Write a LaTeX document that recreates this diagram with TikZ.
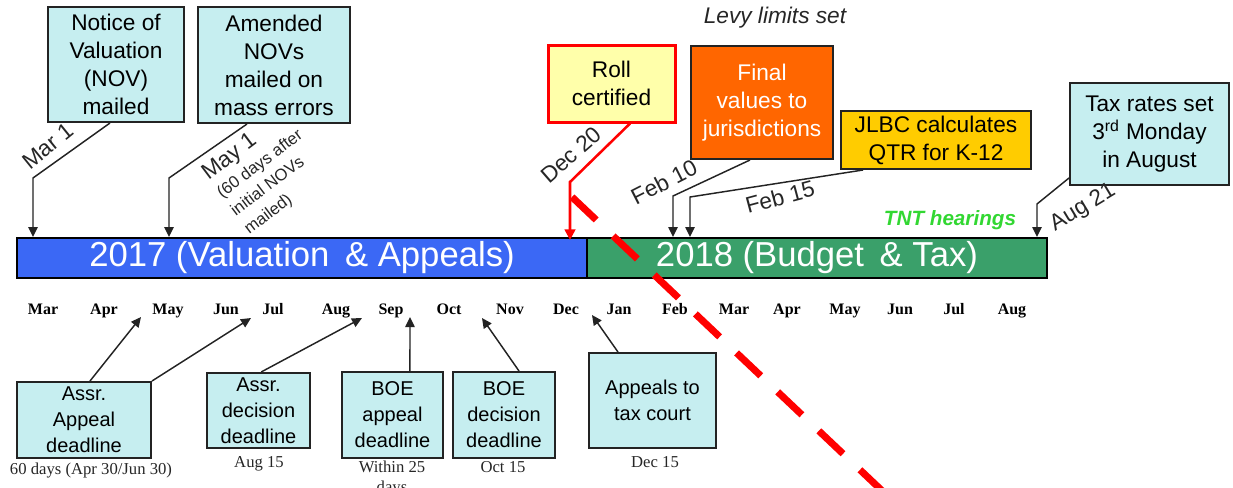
\documentclass[tikz,border=0pt]{standalone}
\usepackage{fontspec}
\setmainfont{Liberation Sans}
\newfontfamily\monthfont{Liberation Serif}
\usetikzlibrary{arrows.meta}

\definecolor{boxcyan}{RGB}{198,238,240}
\definecolor{rollyellow}{RGB}{255,255,170}
\definecolor{finalorange}{RGB}{255,102,0}
\definecolor{jlbcgold}{RGB}{255,204,0}
\definecolor{bluebar}{RGB}{59,104,245}
\definecolor{greenbar}{RGB}{58,160,106}
\definecolor{tntgreen}{RGB}{50,215,50}
\definecolor{edge}{RGB}{35,35,35}

\begin{document}
\begin{tikzpicture}[x=0.75pt,y=-0.75pt,
  box/.style={draw=edge, line width=1.5pt, fill=boxcyan, align=center,
    inner sep=0pt, font=\fontsize{17}{21}\selectfont},
  lowbox/.style={box, font=\fontsize{15}{19.5}\selectfont},
  bar/.style={draw=black, line width=1.5pt, inner sep=0pt, text=white,
    font=\fontsize{26}{30}\selectfont},
  conn/.style={draw=edge, line width=1.1pt, -{Triangle[length=7.5pt,width=7pt]}},
  datelbl/.style={font=\fontsize{17}{20}\selectfont, text=black!85, inner sep=0pt},
  month/.style={font=\monthfont\bfseries\fontsize{12}{14}\selectfont,
    inner sep=0pt, anchor=base},
  caption/.style={font=\monthfont\fontsize{12.5}{15}\selectfont, align=center,
    inner sep=0pt, text=black!85, anchor=base},
]
\useasboundingbox (0,0) rectangle (1233,487);

% ---------- timeline bars ----------
\node[bar, fill=bluebar, minimum width=427.5pt, minimum height=30pt]
  (bar2017) at (302,258) {2017 (Valuation\hspace{0.45em}\& Appeals)};
\node[bar, fill=greenbar, minimum width=345pt, minimum height=30pt]
  (bar2018) at (817,258) {2018 (Budget\hspace{0.45em}\& Tax)};

% ---------- events above the timeline ----------
\node[box, minimum width=102pt, minimum height=86.25pt] (nov) at (116,64.5)
  {Notice of\\Valuation\\(NOV)\\mailed};
\node[box, minimum width=114pt, minimum height=87pt] (amend) at (274,65)
  {Amended\\NOVs\\mailed on\\mass errors};
\node[box, fill=rollyellow, draw=red, line width=2.25pt,
  minimum width=95.25pt, minimum height=57.75pt] (roll) at (611.5,83.5)
  {Roll\\certified};
\node[box, fill=finalorange, text=white, minimum width=106.5pt,
  minimum height=84.75pt] (final) at (762,102.5)
  {Final\\values to\\jurisdictions};
\node[box, fill=jlbcgold, minimum width=142.5pt, minimum height=43.5pt]
  (jlbc) at (936,140) {JLBC calculates\\QTR for K-12};
\node[box, minimum width=119.25pt, minimum height=76.5pt] (taxr) at (1149.5,134)
  {Tax rates set\\3\textsuperscript{rd} Monday\\in August};

\node[font=\itshape\fontsize{17}{20}\selectfont, text=black!85] (levy)
  at (775,18) {Levy limits set};
\node[font=\bfseries\itshape\fontsize{15.5}{18}\selectfont, text=tntgreen] (tnt)
  at (950,220) {TNT hearings};

% bend points and arrow targets on the bar
\coordinate (bMar1) at (33,178);   \coordinate (aMar1) at (33,237);
\coordinate (bMay1) at (169,178);  \coordinate (aMay1) at (169,237);
\coordinate (bDec20) at (570,182); \coordinate (aDec20) at (570,240);
\coordinate (bFeb10) at (673,196); \coordinate (aFeb10) at (673,237);
\coordinate (bFeb15) at (690,197); \coordinate (aFeb15) at (690,237);
\coordinate (bAug21) at (1037,204);\coordinate (aAug21) at (1037,237);

\draw[conn] ([xshift=-4.5pt]nov.south) -- (bMar1) -- (aMar1);
\draw[conn] ([xshift=-20.25pt]amend.south) -- (bMay1) -- (aMay1);
\draw[draw=red, line width=1.9pt, -{Triangle[length=8pt,width=8pt]}]
  ([xshift=13.9pt]roll.south) -- (bDec20) -- (aDec20);
\draw[conn] ([xshift=-9pt]final.south) -- (bFeb10) -- (aFeb10);
\draw[conn] ([xshift=-54.75pt]jlbc.south) -- (bFeb15) -- (aFeb15);
\draw[conn] ([yshift=6pt]taxr.south west) -- (bAug21) -- (aAug21);

% date labels along the connectors
\node[datelbl, rotate=39] (lMar1) at (48,146) {Mar 1};
\node[datelbl, rotate=37, align=left, font=\fontsize{12.5}{15}\selectfont]
  (lMay1) at (266,172)
  {{\fontsize{17}{20}\selectfont May 1}\\[2pt]
   (60 days after\\[2pt]initial NOVs\\[2pt]mailed)};
\node[datelbl, rotate=41] (lDec20) at (571,155) {Dec 20};
\node[datelbl, rotate=27] (lFeb10) at (664,182) {Feb 10};
\node[datelbl, rotate=15] (lFeb15) at (780,197) {Feb 15};
\node[datelbl, rotate=31] (lAug21) at (1083,208) {Aug 21};

% ---------- month scale ----------
\foreach \mx/\mn [count=\i] in {43/Mar,104/Apr,168/May,226/Jun,273/Jul,336/Aug,
    391/Sep,449/Oct,510/Nov,566/Dec,619/Jan,675/Feb,734/Mar,787/Apr,845/May,
    900/Jun,954/Jul,1012/Aug}
  \node[month] (m\i) at (\mx,314) {\mn};

% ---------- appeal events below the timeline ----------
\node[lowbox, minimum width=100.5pt, minimum height=57pt] (assr) at (84,420)
  {Assr.\\Appeal\\deadline};
\node[lowbox, minimum width=77.25pt, minimum height=56.25pt] (assrdec)
  at (258.5,410.5) {Assr.\\decision\\deadline};
\node[lowbox, minimum width=75.75pt, minimum height=64.5pt] (boeapp)
  at (392.5,415) {BOE\\appeal\\deadline};
\node[lowbox, minimum width=76.5pt, minimum height=64.5pt] (boedec)
  at (504,415) {BOE\\decision\\deadline};
\node[lowbox, minimum width=95.25pt, minimum height=71.25pt] (appeals)
  at (652.5,400.5) {Appeals to\\tax court};

\node[caption] (cAssr) at (91,474) {60 days (Apr 30/Jun 30)};
\node[caption] (cAssrdec) at (259,467) {Aug 15};
\node[caption, anchor=north] (cBoeapp) at (392,461) {Within 25\\days};
\node[caption] (cBoedec) at (503,472) {Oct 15};
\node[caption] (cAppeals) at (655,467) {Dec 15};

\coordinate (tApr) at (141,317);
\coordinate (tJun) at (251,318);
\coordinate (tAug) at (362,318);
\coordinate (tSep) at (410,317);
\coordinate (tNov) at (482,318);
\coordinate (tDec) at (592,315);

\draw[conn] ([xshift=4.5pt]assr.north) -- (tApr);
\draw[conn] (assr.north east) -- (tJun);
\draw[conn] ([xshift=2pt]assrdec.north) -- (tAug);
\draw[conn] ([xshift=13.1pt]boeapp.north) -- (tSep);
\draw[conn] ([xshift=11.25pt]boedec.north) -- (tNov);
\draw[conn] ([xshift=-25.9pt]appeals.north) -- (tDec);

% ---------- dashed red diagonal ----------
\draw[red, line width=5.25pt, dash pattern=on 25pt off 17.5pt]
  (572,197) -- (895,503);

\end{tikzpicture}
\end{document}
